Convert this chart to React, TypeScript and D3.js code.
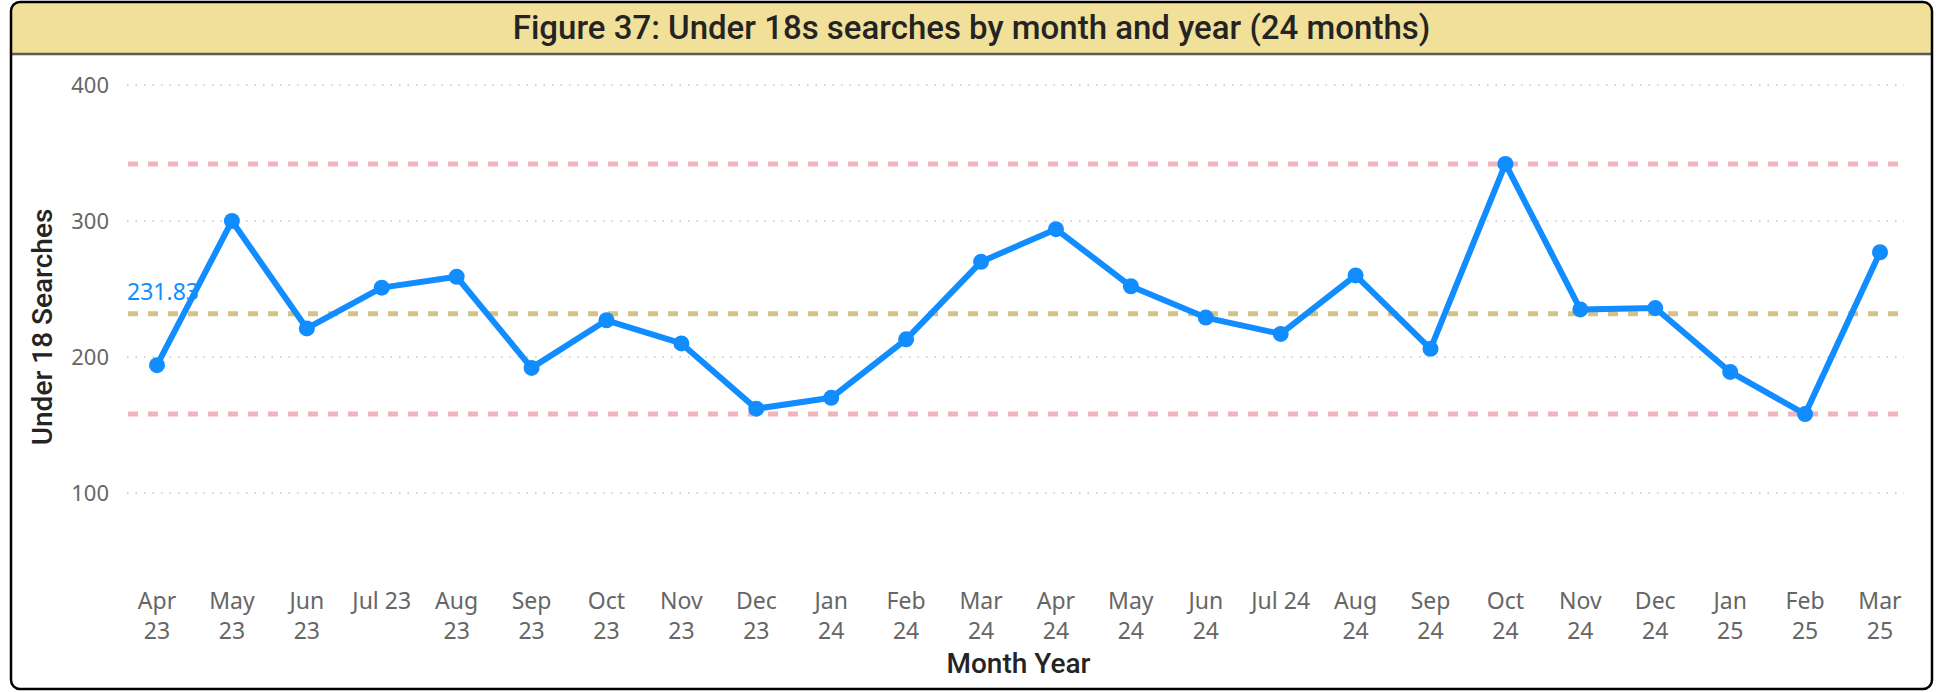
import React from "react";
import * as d3 from "d3";

const months = [
  "Apr 23", "May 23", "Jun 23", "Jul 23", "Aug 23", "Sep 23", "Oct 23", "Nov 23",
  "Dec 23", "Jan 24", "Feb 24", "Mar 24", "Apr 24", "May 24", "Jun 24", "Jul 24",
  "Aug 24", "Sep 24", "Oct 24", "Nov 24", "Dec 24", "Jan 25", "Feb 25", "Mar 25",
];
const searches = [
  194, 300, 221, 251, 259, 192, 227, 210, 162, 170, 213, 270,
  294, 252, 229, 217, 260, 206, 342, 235, 236, 189, 158, 277,
];
// x labels: months that fit on one line
const singleLine = ["Jul 23", "Jul 24"];
const yTicks = [100, 200, 300, 400];

const W = 1939;
const H = 692;

export default function App() {
  const x = d3.scalePoint<string>().domain(months).range([157, 1880]);
  const y = d3.scaleLinear().domain([100, 400]).range([493, 85]);
  const mean = d3.mean(searches) as number;
  const maxV = d3.max(searches) as number;
  const minV = d3.min(searches) as number;
  const line = d3
    .line<number>()
    .x((_, i) => x(months[i]) as number)
    .y((d) => y(d));

  const boxL = 11, boxT = 2, boxR = 1932, boxB = 689, r = 9, headB = 54;
  const headerPath = `M${boxL},${headB} L${boxL},${boxT + r} Q${boxL},${boxT} ${boxL + r},${boxT} L${boxR - r},${boxT} Q${boxR},${boxT} ${boxR},${boxT + r} L${boxR},${headB} Z`;
  const gridL = 127, gridR = 1904;
  const tickFont = "'Segoe UI', 'Noto Sans', 'Open Sans', sans-serif";
  const titleFont = "'DIN', Roboto, 'DejaVu Sans Condensed', sans-serif";

  return (
    <svg
      width={W}
      height={H}
      style={{ position: "absolute", left: 0, top: 0, background: "#fff" }}
    >
      <rect x={0} y={0} width={W} height={H} fill="#fff" />
      <path d={headerPath} fill="#F0E09A" />
      <line x1={boxL} x2={boxR} y1={headB} y2={headB} stroke="#5a5a5a" strokeWidth={2.5} />
      <rect
        x={boxL}
        y={boxT}
        width={boxR - boxL}
        height={boxB - boxT}
        rx={r}
        fill="none"
        stroke="#000"
        strokeWidth={2.5}
      />
      <text
        x={(boxL + boxR) / 2}
        y={39}
        textAnchor="middle"
        fontFamily={titleFont}
        fontWeight={500}
        fontSize={33}
        fill="#252423"
      >
        Figure 37: Under 18s searches by month and year (24 months)
      </text>

      {/* gridlines */}
      {yTicks.map((t) => (
        <g key={t}>
          <line
            x1={gridL}
            x2={gridR}
            y1={y(t)}
            y2={y(t)}
            stroke="#C8C8C8"
            strokeWidth={1.5}
            strokeDasharray="1.5,7"
          />
          <text
            x={109}
            y={y(t)}
            dy="0.35em"
            textAnchor="end"
            fontFamily={tickFont}
            fontSize={22}
            fill="#666"
          >
            {t}
          </text>
        </g>
      ))}

      {/* y axis title */}
      <text
        transform={`translate(42,327) rotate(-90)`}
        textAnchor="middle"
        dy="0.35em"
        fontFamily={titleFont}
        fontWeight={500}
        fontSize={28}
        fill="#252423"
      >
        Under 18 Searches
      </text>

      {/* reference lines */}
      {[maxV, minV].map((v, i) => (
        <line
          key={i}
          x1={128}
          x2={gridR}
          y1={y(v)}
          y2={y(v)}
          stroke="#F0B4BD"
          strokeWidth={5}
          strokeDasharray="10,10"
        />
      ))}
      <line
        x1={128}
        x2={gridR}
        y1={y(mean)}
        y2={y(mean)}
        stroke="#D4C385"
        strokeWidth={5}
        strokeDasharray="10,10"
      />
      <text
        x={127}
        y={y(mean) - 14}
        fontFamily={tickFont}
        fontSize={23}
        fill="#118DFF"
      >
        {mean.toFixed(2)}
      </text>

      {/* series */}
      <path
        d={line(searches) as string}
        fill="none"
        stroke="#118DFF"
        strokeWidth={6}
        strokeLinejoin="round"
      />
      {searches.map((v, i) => (
        <circle key={i} cx={x(months[i])} cy={y(v)} r={8} fill="#118DFF" />
      ))}

      {/* x labels */}
      {months.map((m) => {
        const cx = x(m) as number;
        if (singleLine.includes(m)) {
          return (
            <text key={m} x={cx} y={609} textAnchor="middle" fontFamily={tickFont} fontSize={23} fill="#666">
              {m}
            </text>
          );
        }
        const [mo, yr] = m.split(" ");
        return (
          <text key={m} textAnchor="middle" fontFamily={tickFont} fontSize={23} fill="#666">
            <tspan x={cx} y={609}>{mo}</tspan>
            <tspan x={cx} y={639}>{yr}</tspan>
          </text>
        );
      })}
      <text
        x={(157 + 1880) / 2}
        y={673}
        textAnchor="middle"
        fontFamily={titleFont}
        fontWeight={500}
        fontSize={28}
        fill="#252423"
      >
        Month Year
      </text>
    </svg>
  );
}
